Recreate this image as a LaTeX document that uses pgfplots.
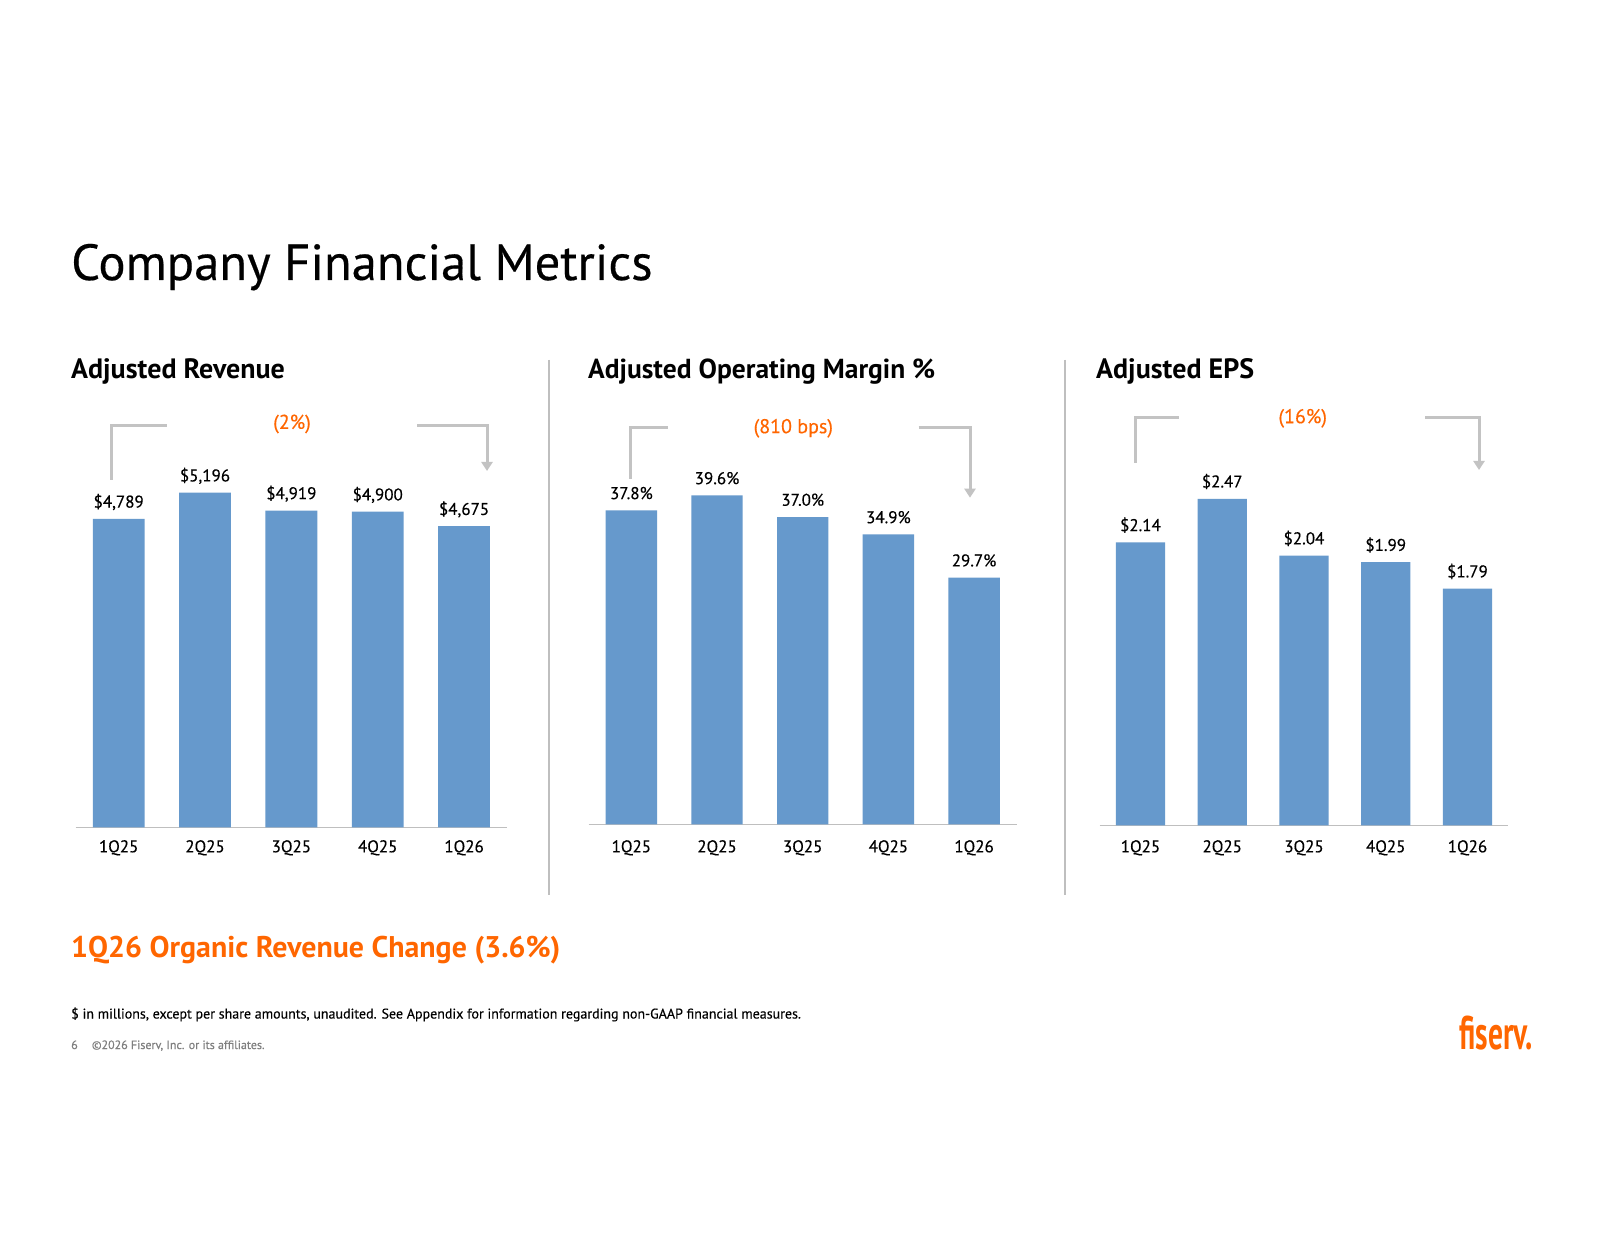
\documentclass[border=0pt]{standalone}
\usepackage{pgfplots}
\pgfplotsset{compat=1.18}
\usepackage{pgfplotstable}
\usetikzlibrary{arrows.meta}
\usepackage{fontspec}
\setmainfont{PT Sans}[UprightFeatures={FakeBold=0.35}]
\newfontfamily\logofont{PT Sans Bold}[FakeStretch=0.8]

\definecolor{barblue}{HTML}{6699CC}
\definecolor{fisorange}{HTML}{FF6600}
\definecolor{brgray}{HTML}{C3C3C3}
\definecolor{axgray}{HTML}{BFBFBF}
\definecolor{notegray}{HTML}{7F7F7F}

% quarterly results
\pgfplotstableread{
q val
0 4789
1 5196
2 4919
3 4900
4 4675
}\revenuedata
\pgfplotstableread{
q val
0 37.8
1 39.6
2 37.0
3 34.9
4 29.7
}\margindata
\pgfplotstableread{
q val
0 2.14
1 2.47
2 2.04
3 1.99
4 1.79
}\epsdata

\newcommand{\labfont}{\fontsize{17}{20}\selectfont}

\pgfplotsset{
  quarterbars/.style={
    scale only axis, anchor=south west,
    xmin=-0.5, xmax=4.5, ymin=0,
    hide y axis,
    axis x line*=bottom,
    x axis line style={draw=axgray, line width=1.4pt, -},
    xtick={0,...,4},
    xticklabels={1Q25,2Q25,3Q25,4Q25,1Q26},
    major tick length=0pt,
    xticklabel style={font=\labfont, anchor=base, yshift=#1},
    /pgf/number format/assume math mode=true,
    clip=false,
  },
  valuebars/.style={
    ybar, bar width=0.6, fill=barblue, draw=none,
    point meta=y,
    every node near coord/.append style={anchor=base, yshift=11.3pt,
      font=\labfont, text=black, inner sep=0pt},
  },
}

\begin{document}
\begin{tikzpicture}[x=1pt, y=1pt]
  % page
  \fill[white] (0,0) rectangle (1600,1237);

  % headline
  \node[anchor=base west, inner sep=0] at (71,957)
    {\fontsize{50.7}{60}\selectfont Company Financial Metrics};

  % panel titles
  \node[anchor=base west, inner sep=0] at (71,858.4)
    {\fontsize{28}{32}\selectfont\bfseries Adjusted Revenue};
  \node[anchor=base west, inner sep=0] at (588,858.4)
    {\fontsize{27.5}{32}\selectfont\bfseries Adjusted Operating Margin \%};
  \node[anchor=base west, inner sep=0] at (1096,858.4)
    {\fontsize{28}{32}\selectfont\bfseries Adjusted EPS};

  % panel separators
  \draw[axgray, line width=2pt] (549,877) -- (549,342);
  \draw[axgray, line width=2pt] (1065.3,877) -- (1065.3,342);

  % Adjusted Revenue
  \begin{axis}[quarterbars=-25pt, at={(75.5pt,409.7pt)}, x=86.35pt, y=0.0644pt, ymax=5900]
    \addplot[valuebars,
      nodes near coords={\$\pgfmathprintnumber[fixed,precision=0,1000 sep={,}]{\pgfplotspointmeta}}]
      table[x=q, y=val] {\revenuedata};
  \end{axis}

  % Adjusted Operating Margin
  \begin{axis}[quarterbars=-27.8pt, at={(588.5pt,412.5pt)}, x=85.68pt, y=8.31pt, ymax=45]
    \addplot[valuebars,
      nodes near coords={\pgfmathprintnumber[fixed,fixed zerofill,precision=1]{\pgfplotspointmeta}\%}]
      table[x=q, y=val] {\margindata};
  \end{axis}

  % Adjusted EPS
  \begin{axis}[quarterbars=-27pt, at={(1099.6pt,411.7pt)}, x=81.75pt, y=132.2pt, ymax=3]
    \addplot[valuebars,
      nodes near coords={\$\pgfmathprintnumber[fixed,fixed zerofill,precision=2]{\pgfplotspointmeta}}]
      table[x=q, y=val] {\epsdata};
  \end{axis}

  % year-over-year brackets
  \begin{scope}[brgray, line width=3pt]
    \draw (111,757) -- (111,811) -- (167,811);
    \draw[-{Triangle[width=11pt,length=9pt]}] (417,811) -- (487,811) -- (487,766);
    \draw (630.7,758) -- (630.7,809.3) -- (668.3,809.3);
    \draw[-{Triangle[width=11pt,length=9pt]}] (918.7,809.3) -- (970,809.3) -- (970,739.3);
    \draw (1135,774.3) -- (1135,819.7) -- (1179.3,819.7);
    \draw[-{Triangle[width=11pt,length=9pt]}] (1425,819.7) -- (1479,819.7) -- (1479,767);
  \end{scope}
  \begin{scope}[every node/.style={text=fisorange, inner sep=0, font=\fontsize{20}{24}\selectfont}]
    \node at (292,813) {(2\%)};
    \node at (793.3,808.7) {(810 bps)};
    \node at (1302.7,818.7) {(16\%)};
  \end{scope}

  % notes
  \node[anchor=base west, inner sep=0, text=fisorange] at (71,279.3)
    {\fontsize{29.9}{34}\selectfont\bfseries 1Q26 Organic Revenue Change (3.6\%)};
  \node[anchor=base west, inner sep=0] at (71,218.5)
    {\fontsize{14}{16}\selectfont \$ in millions, except per share amounts, unaudited. See Appendix for information regarding non-GAAP financial measures.};
  \node[anchor=base west, inner sep=0, text=notegray] at (71,188)
    {\fontsize{12}{14}\selectfont 6};
  \node[anchor=base west, inner sep=0, text=notegray] at (91.7,188)
    {\fontsize{12}{14}\selectfont \textcopyright 2026 Fiserv, Inc. or its affiliates.};

  % logo
  \node[anchor=base west, inner sep=0, text=fisorange] at (1459,188)
    {\scalebox{1.12}[1.43]{\fontsize{33}{36}\selectfont\logofont fiserv.}};
\end{tikzpicture}
\end{document}
